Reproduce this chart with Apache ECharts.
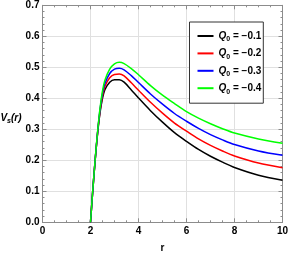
<!DOCTYPE html>
<html><head><meta charset="utf-8">
<script src="https://cdn.jsdelivr.net/npm/echarts@6/dist/echarts.min.js"></script>
<style>html,body{margin:0;padding:0;background:#fff}#c{width:289px;height:256px}</style>
</head><body><div id="c"></div>
<script>
const rValues = [2.0, 2.1, 2.2, 2.3, 2.4, 2.5, 2.6, 2.8, 3.0, 3.2, 3.4, 3.7, 4.0, 4.5, 5.0, 5.5, 6.0, 6.5, 7.0, 7.5, 8.0, 9.0, 10.0];
const vQ01 = [0, 0.108, 0.205, 0.290, 0.355, 0.400, 0.428, 0.452, 0.460, 0.460, 0.452, 0.427, 0.401, 0.360, 0.323, 0.289, 0.261, 0.235, 0.213, 0.194, 0.177, 0.152, 0.136];
const vQ02 = [0, 0.108, 0.206, 0.292, 0.360, 0.408, 0.438, 0.466, 0.477, 0.478, 0.472, 0.450, 0.426, 0.387, 0.352, 0.320, 0.294, 0.269, 0.248, 0.230, 0.214, 0.191, 0.176];
const vQ03 = [0, 0.108, 0.207, 0.294, 0.365, 0.416, 0.448, 0.480, 0.494, 0.497, 0.492, 0.473, 0.451, 0.414, 0.381, 0.351, 0.326, 0.303, 0.283, 0.266, 0.251, 0.230, 0.216];
const vQ04 = [0, 0.108, 0.208, 0.296, 0.370, 0.424, 0.458, 0.494, 0.511, 0.516, 0.512, 0.496, 0.476, 0.441, 0.410, 0.383, 0.357, 0.336, 0.318, 0.302, 0.288, 0.269, 0.255];
const qLabels = ['\u22120.1', '\u22120.2', '\u22120.3', '\u22120.4'];
const seriesColors = ['#000000', '#ff0000', '#0000ff', '#00ff00'];
const seriesValues = [vQ01, vQ02, vQ03, vQ04];
const seriesNames = qLabels.map(q => 'Q0 = ' + q);

const chart = echarts.init(document.getElementById('c'), null, {renderer: 'canvas'});
const frameColor = '#8c8c8c';
const gridColor = '#e0e0e0';
const font = 'Liberation Sans, Arial, sans-serif';

function axisCommon(showLabel, showSplit) {
  return {
    axisLine: {show: true, onZero: false, lineStyle: {color: frameColor, width: 1}},
    axisTick: {show: true, inside: true, length: 4, lineStyle: {color: frameColor}},
    minorTick: {show: true, length: 2, lineStyle: {color: frameColor}},
    splitLine: {show: showSplit, lineStyle: {color: gridColor, width: 1}},
    axisLabel: {show: showLabel, color: '#000', fontSize: 10, fontWeight: 'bold', fontFamily: font}
  };
}

const xBase = {type: 'value', min: 0, max: 10, interval: 2};
const yBase = {type: 'value', min: 0, max: 0.7, interval: 0.1};

const option = {
  animation: false,
  backgroundColor: '#fff',
  grid: {left: 42.5, right: 6.5, top: 5.3, bottom: 33.7, containLabel: false, outerBoundsMode: 'none'},
  xAxis: [
    Object.assign({}, xBase, axisCommon(true, true), {
      position: 'bottom', name: 'r', nameLocation: 'middle', nameGap: 21, nameMoveOverlap: false,
      nameTextStyle: {color: '#000', fontSize: 10, fontWeight: 'bold', fontFamily: font},
      minorTick: {show: true, splitNumber: 4, length: 2, lineStyle: {color: frameColor}},
      axisLabel: {show: true, color: '#000', fontSize: 10, fontWeight: 'bold', fontFamily: font, margin: 4}
    }),
    Object.assign({}, xBase, axisCommon(false, false), {
      position: 'top',
      minorTick: {show: true, splitNumber: 4, length: 2, lineStyle: {color: frameColor}}
    })
  ],
  yAxis: [
    Object.assign({}, yBase, axisCommon(true, true), {
      position: 'left', name: '{v|V}{s|s}{t|(r)}', nameLocation: 'middle', nameGap: 21, nameRotate: 0,
      nameMoveOverlap: false,
      nameTextStyle: {
        color: '#000', fontFamily: font, padding: [0, 0, -8, 0],
        rich: {
          v: {fontSize: 10, fontStyle: 'italic', fontWeight: 'bold', fontFamily: font, lineHeight: 14, color: '#000'},
          s: {fontSize: 7, fontStyle: 'italic', fontWeight: 'bold', fontFamily: font, lineHeight: 8, verticalAlign: 'bottom', color: '#000'},
          t: {fontSize: 10, fontStyle: 'italic', fontWeight: 'bold', fontFamily: font, lineHeight: 14, color: '#000'}
        }
      },
      minorTick: {show: true, splitNumber: 5, length: 2, lineStyle: {color: frameColor}},
      axisLabel: {show: true, color: '#000', fontSize: 10, fontWeight: 'bold', fontFamily: font, margin: 3,
        formatter: v => v.toFixed(1)}
    }),
    Object.assign({}, yBase, axisCommon(false, false), {
      position: 'right',
      minorTick: {show: true, splitNumber: 5, length: 2, lineStyle: {color: frameColor}}
    })
  ],
  legend: {
    orient: 'vertical', left: 189.5, top: 22,
    padding: [9, 2, 8, 8],
    borderColor: '#333', borderWidth: 1, backgroundColor: '#fff',
    icon: 'rect', itemWidth: 16, itemHeight: 2, itemGap: 5.4,
    data: seriesNames,
    formatter: name => {
      const i = seriesNames.indexOf(name);
      return '{q|Q}{s|0}{t| = ' + qLabels[i] + '}';
    },
    textStyle: {
      color: '#000', fontFamily: font,
      rich: {
        q: {fontSize: 10, fontStyle: 'italic', fontWeight: 'bold', fontFamily: font, lineHeight: 14, color: '#000'},
        s: {fontSize: 7, fontWeight: 'bold', fontFamily: font, lineHeight: 9, verticalAlign: 'bottom', color: '#000'},
        t: {fontSize: 10, fontWeight: 'bold', fontFamily: font, lineHeight: 14, color: '#000'}
      }
    }
  },
  series: seriesValues.map((vals, i) => ({
    name: seriesNames[i], type: 'line', xAxisIndex: 0, yAxisIndex: 0,
    data: rValues.map((r, k) => [r, vals[k]]),
    showSymbol: false, symbol: 'none', smooth: 0.3,
    lineStyle: {color: seriesColors[i], width: 1.5},
    itemStyle: {color: seriesColors[i]},
    z: 3 + i
  }))
};
chart.setOption(option);
</script></body></html>
